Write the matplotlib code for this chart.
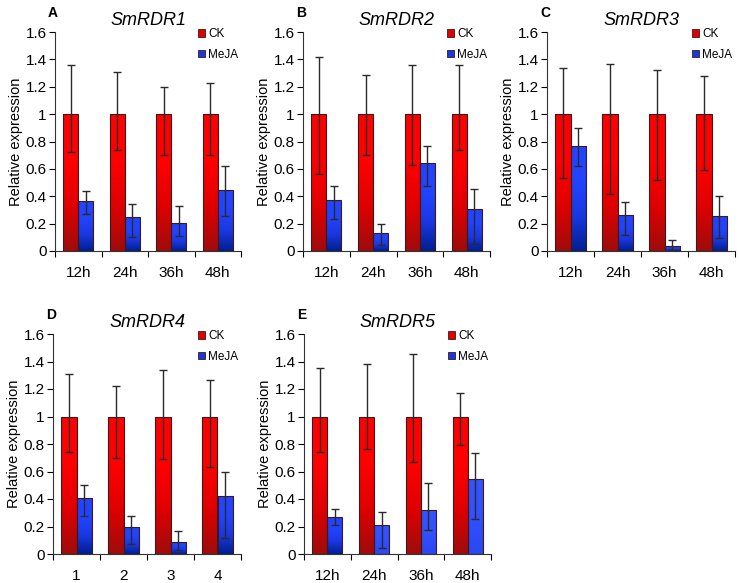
import numpy as np
import matplotlib
matplotlib.use("Agg")
import matplotlib.pyplot as plt
from matplotlib.patches import Patch, Rectangle
from matplotlib.colors import LinearSegmentedColormap

plt.rcParams['font.family'] = ['Liberation Sans', 'DejaVu Sans']

time_labels = ["12h", "24h", "36h", "48h"]
num_labels = ["1", "2", "3", "4"]

genes = ["SmRDR1", "SmRDR2", "SmRDR3", "SmRDR4", "SmRDR5"]
letters = ["A", "B", "C", "D", "E"]

ck_mean = [[1, 1, 1, 1]] * 5
ck_lo = [[0.72, 0.74, 0.70, 0.70],
         [0.565, 0.70, 0.63, 0.735],
         [0.535, 0.415, 0.52, 0.59],
         [0.745, 0.70, 0.69, 0.635],
         [0.745, 0.765, 0.67, 0.795]]
ck_hi = [[1.36, 1.31, 1.195, 1.225],
         [1.42, 1.285, 1.36, 1.36],
         [1.335, 1.365, 1.32, 1.275],
         [1.31, 1.225, 1.335, 1.265],
         [1.355, 1.385, 1.455, 1.17]]

meja_mean = [[0.365, 0.25, 0.205, 0.445],
             [0.375, 0.135, 0.64, 0.31],
             [0.77, 0.26, 0.04, 0.255],
             [0.405, 0.20, 0.09, 0.42],
             [0.27, 0.21, 0.32, 0.545]]
meja_lo = [[0.27, 0.105, 0.11, 0.255],
           [0.235, 0.045, 0.475, 0.05],
           [0.62, 0.115, 0.005, 0.095],
           [0.28, 0.075, 0.03, 0.12],
           [0.21, 0.045, 0.175, 0.255]]
meja_hi = [[0.44, 0.34, 0.33, 0.62],
           [0.475, 0.195, 0.765, 0.45],
           [0.90, 0.355, 0.08, 0.405],
           [0.50, 0.28, 0.17, 0.60],
           [0.325, 0.305, 0.52, 0.735]]

xlabels = [time_labels, time_labels, time_labels, num_labels, time_labels]

W, H = 739, 583
fig = plt.figure(figsize=(W / 100, H / 100), dpi=100)

# axes boxes in pixels: left, right, top(y=1.6), bottom(y=0)
boxes = [(55, 241, 32, 251), (303, 490, 32, 251), (547, 735, 32, 251),
         (53, 241, 334, 554), (304, 491, 334, 554)]

red_cmap = LinearSegmentedColormap.from_list("r", ["#9e0c0c", "#e00000", "#ff0000", "#ff0000"])
blue_cmap = LinearSegmentedColormap.from_list("b", ["#001f8f", "#1a38e0", "#2244ff", "#2244ff"])
blue_light = LinearSegmentedColormap.from_list("bl", ["#2a48f0", "#3150ff", "#3454ff"])

bw = 0.32

def grad_bar(ax, x, h, cmap):
    grad = np.linspace(0, 1, 256).reshape(-1, 1)
    im = ax.imshow(grad, extent=[x - bw / 2, x + bw / 2, 0, h], origin='lower',
                   cmap=cmap, aspect='auto', zorder=2, interpolation='bicubic')
    rect = Rectangle((x - bw / 2, 0), bw, h, facecolor='none', edgecolor='#3a1a1a',
                     linewidth=0.8, zorder=3)
    ax.add_patch(rect)
    im.set_clip_path(rect)

for i in range(5):
    l, r, t, b = boxes[i]
    ax = fig.add_axes([l / W, (H - b) / H, (r - l) / W, (b - t) / H])
    x = np.arange(4)
    for j in range(4):
        grad_bar(ax, x[j] - bw / 2, ck_mean[i][j], red_cmap)
        cm = blue_cmap
        if i == 4 and j > 0:
            cm = blue_light
        grad_bar(ax, x[j] + bw / 2, meja_mean[i][j], cm)
    ckm = np.array(ck_mean[i], float)
    mjm = np.array(meja_mean[i], float)
    ax.errorbar(x - bw / 2, ckm, yerr=[ckm - np.array(ck_lo[i]), np.array(ck_hi[i]) - ckm],
                fmt='none', ecolor='#2a2a2a', elinewidth=1.0, capsize=2.6, capthick=1.0, zorder=4)
    ax.errorbar(x + bw / 2, mjm, yerr=[mjm - np.array(meja_lo[i]), np.array(meja_hi[i]) - mjm],
                fmt='none', ecolor='#2a2a2a', elinewidth=1.0, capsize=2.6, capthick=1.0, zorder=4)
    ax.set_xlim(-0.5, 3.5)
    ax.set_ylim(0, 1.6)
    ax.set_yticks(np.arange(0, 1.61, 0.2))
    ax.set_yticklabels(["0", "0.2", "0.4", "0.6", "0.8", "1", "1.2", "1.4", "1.6"], fontsize=11)
    ax.set_xticks(np.arange(-0.5, 4, 1))
    ax.set_xticklabels([])
    ax.set_xticks(x, minor=True)
    ax.set_xticklabels(xlabels[i], minor=True, fontsize=11)
    ax.tick_params(axis='x', which='major', direction='out', length=4, width=0.8)
    ax.tick_params(axis='x', which='minor', length=0, pad=11)
    ax.tick_params(axis='y', direction='out', length=4, width=0.8, pad=2)
    for s in ['top', 'right']:
        ax.spines[s].set_visible(False)
    for s in ['left', 'bottom']:
        ax.spines[s].set_linewidth(0.8)
        ax.spines[s].set_color('#333333')
    ax.set_ylabel("Relative expression", fontsize=10.5, labelpad=2)
    ax.set_title(genes[i], fontsize=13, style='italic', pad=5)
    ax.text(-0.01, 1.087, letters[i], transform=ax.transAxes, fontsize=10, fontweight='bold',
            ha='center', va='center')
    handles = [Patch(facecolor='#e00000', edgecolor='#3a1a1a', linewidth=0.6, label='CK'),
               Patch(facecolor='#1a38e0', edgecolor='#3a1a1a', linewidth=0.6, label='MeJA')]
    ax.legend(handles=handles, loc='upper right', bbox_to_anchor=(1.01, 1.04), frameon=False,
              fontsize=8.5, handlelength=0.6, handleheight=0.6, handletextpad=0.25,
              labelspacing=0.75, borderaxespad=0)

fig.savefig("out.png", dpi=100)
